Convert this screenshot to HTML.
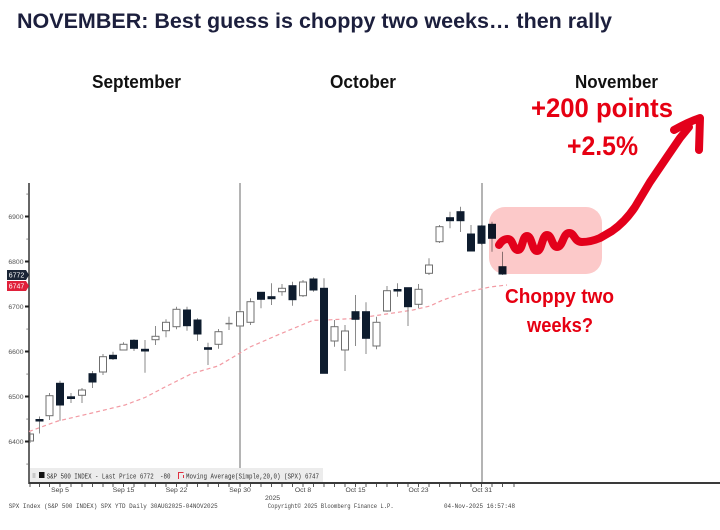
<!DOCTYPE html>
<html><head><meta charset="utf-8"><style>
html,body{margin:0;padding:0;background:#fff;}
svg{display:block;}
</style></head><body>
<svg width="720" height="530" viewBox="0 0 720 530" xmlns="http://www.w3.org/2000/svg">
<rect width="720" height="530" fill="#fff"/>
<!-- title -->
<text x="17" y="28" font-family="Liberation Sans, sans-serif" font-weight="bold" font-size="21" fill="#1c1f3d" textLength="595" lengthAdjust="spacingAndGlyphs">NOVEMBER: Best guess is choppy two weeks… then rally</text>
<!-- month headers -->
<g font-family="Liberation Sans, sans-serif" font-weight="bold" font-size="18" fill="#111">
<text x="92" y="88" textLength="89" lengthAdjust="spacingAndGlyphs">September</text>
<text x="330" y="88" textLength="66" lengthAdjust="spacingAndGlyphs">October</text>
<text x="575" y="88" textLength="83" lengthAdjust="spacingAndGlyphs">November</text>
</g>
<!-- red annotations -->
<g font-family="Liberation Sans, sans-serif" font-weight="bold" fill="#e60012">
<text x="531" y="117" font-size="27" textLength="142" lengthAdjust="spacingAndGlyphs">+200 points</text>
<text x="567" y="155" font-size="27" textLength="71" lengthAdjust="spacingAndGlyphs">+2.5%</text>
<text x="505" y="303" font-size="20" textLength="109" lengthAdjust="spacingAndGlyphs">Choppy two</text>
<text x="527" y="332" font-size="20" textLength="66" lengthAdjust="spacingAndGlyphs">weeks?</text>
</g>

<!-- y axis -->
<line x1="29" y1="183" x2="29" y2="484" stroke="#333" stroke-width="1.5"/>
<g stroke="#222" stroke-width="2">
<line x1="25" y1="216.5" x2="29" y2="216.5"/>
<line x1="25" y1="261.5" x2="29" y2="261.5"/>
<line x1="25" y1="306.5" x2="29" y2="306.5"/>
<line x1="25" y1="351.5" x2="29" y2="351.5"/>
<line x1="25" y1="396.5" x2="29" y2="396.5"/>
<line x1="25" y1="441.5" x2="29" y2="441.5"/>
</g>
<g fill="#777">
<rect x="26.5" y="193.5" width="1.2" height="1.2"/>
<rect x="26.5" y="238.5" width="1.2" height="1.2"/>
<rect x="26.5" y="328.5" width="1.2" height="1.2"/>
<rect x="26.5" y="373.5" width="1.2" height="1.2"/>
<rect x="26.5" y="418.5" width="1.2" height="1.2"/>
<rect x="26.5" y="463.5" width="1.2" height="1.2"/>
</g>
<g font-family="Liberation Sans, sans-serif" font-size="6.8" fill="#555" text-anchor="end">
<text x="23.5" y="219">6900</text>
<text x="23.5" y="264">6800</text>
<text x="23.5" y="309">6700</text>
<text x="23.5" y="354">6600</text>
<text x="23.5" y="399">6500</text>
<text x="23.5" y="444">6400</text>
</g>
<path d="M7,270 L26,270 L29,275 L26,280 L7,280 Z" fill="#1b2536"/>
<path d="M7,281 L26,281 L29,286 L26,291 L7,291 Z" fill="#e0203a"/>
<g font-family="Liberation Sans, sans-serif" font-size="7" fill="#fff" text-anchor="middle">
<text x="16.5" y="277.6">6772</text>
<text x="16.5" y="288.6">6747</text>
</g>

<!-- vertical markers -->
<line x1="240" y1="183" x2="240" y2="483" stroke="#6a6a6a" stroke-width="1"/>
<line x1="482" y1="183" x2="482" y2="483" stroke="#6a6a6a" stroke-width="1"/>

<!-- moving average -->
<path d="M29,431.5 L58,421 L92,413 L125,405 L145,397.5 L165,387 L192,373.5 L218,366 L230,359 L240,353 L250,347 L280,334 L313,320.3 L327,320 L357,318.3 L380,315 L413,310 L430,306 L443,300 L467,292 L490,287 L507,285" fill="none" stroke="#f29aa3" stroke-width="1.2" stroke-dasharray="4 3"/>

<!-- candles -->
<g stroke-width="1">
<g stroke="#8a8a8a">
<line x1="30" y1="432" x2="30" y2="443"/>
<line x1="39.5" y1="416.5" x2="39.5" y2="433.5"/>
<line x1="49.5" y1="393" x2="49.5" y2="420"/>
<line x1="60" y1="380.7" x2="60" y2="420.7"/>
<line x1="71" y1="393" x2="71" y2="403"/>
<line x1="82" y1="388" x2="82" y2="403"/>
<line x1="92.5" y1="371" x2="92.5" y2="388"/>
<line x1="103" y1="354" x2="103" y2="375"/>
<line x1="113" y1="351.7" x2="113" y2="360"/>
<line x1="123.5" y1="342.3" x2="123.5" y2="350"/>
<line x1="134" y1="339.3" x2="134" y2="351"/>
<line x1="145" y1="340" x2="145" y2="372.7"/>
<line x1="155.5" y1="326" x2="155.5" y2="345"/>
<line x1="166" y1="319.3" x2="166" y2="337.3"/>
<line x1="176.5" y1="306.7" x2="176.5" y2="329.3"/>
<line x1="187" y1="306.7" x2="187" y2="330.7"/>
<line x1="197.5" y1="318.3" x2="197.5" y2="341"/>
<line x1="208" y1="342.7" x2="208" y2="365"/>
<line x1="218.5" y1="329" x2="218.5" y2="348.7"/>
<line x1="229" y1="316.7" x2="229" y2="330"/>
<line x1="240" y1="310" x2="240" y2="327"/>
<line x1="250.5" y1="298.3" x2="250.5" y2="325"/>
<line x1="261" y1="292.3" x2="261" y2="308.3"/>
<line x1="271.5" y1="283.3" x2="271.5" y2="305"/>
<line x1="282" y1="284" x2="282" y2="295.7"/>
<line x1="292.5" y1="281.7" x2="292.5" y2="305.7"/>
<line x1="303" y1="280" x2="303" y2="297"/>
<line x1="313.5" y1="277.3" x2="313.5" y2="291.7"/>
<line x1="324" y1="278.3" x2="324" y2="373.3"/>
<line x1="334.5" y1="320" x2="334.5" y2="346.7"/>
<line x1="345" y1="325" x2="345" y2="371"/>
<line x1="355.5" y1="295" x2="355.5" y2="346"/>
<line x1="366" y1="302.3" x2="366" y2="354"/>
<line x1="376.5" y1="316.7" x2="376.5" y2="349.3"/>
<line x1="387" y1="286" x2="387" y2="311.7"/>
<line x1="397.5" y1="283.3" x2="397.5" y2="296.7"/>
<line x1="408" y1="287.7" x2="408" y2="326"/>
<line x1="418.5" y1="284" x2="418.5" y2="308.3"/>
<line x1="429" y1="258.3" x2="429" y2="275"/>
<line x1="439.5" y1="225" x2="439.5" y2="243"/>
<line x1="450" y1="211.7" x2="450" y2="228.3"/>
<line x1="460.5" y1="206.7" x2="460.5" y2="232"/>
<line x1="471" y1="225" x2="471" y2="251"/>
<line x1="481.5" y1="225" x2="481.5" y2="245"/>
<line x1="492" y1="221.7" x2="492" y2="251.7"/>
<line x1="502.5" y1="251.7" x2="502.5" y2="275"/>
</g>
<!-- hollow bodies -->
<g fill="#fff" stroke="#6f6f6f">
<rect x="30" y="434" width="3.5" height="7"/>
<rect x="46" y="395.7" width="7" height="20"/>
<rect x="78.5" y="390" width="7" height="5.3"/>
<rect x="99.5" y="356.7" width="7" height="15.3"/>
<rect x="120" y="344.3" width="7" height="5.7"/>
<rect x="152" y="336.3" width="7" height="3.4"/>
<rect x="162.5" y="322.3" width="7" height="8.4"/>
<rect x="173" y="309.3" width="7" height="17.4"/>
<rect x="215" y="331.7" width="7" height="12.6"/>
<rect x="236.5" y="311.7" width="7" height="14.3"/>
<rect x="247" y="301.7" width="7" height="20.6"/>
<rect x="278.5" y="288.3" width="7" height="3.4"/>
<rect x="299.5" y="282" width="7" height="13.7"/>
<rect x="331" y="326.7" width="7" height="14.3"/>
<rect x="341.5" y="331" width="7" height="19"/>
<rect x="373" y="322.3" width="7" height="23.7"/>
<rect x="383.5" y="290.7" width="7" height="20.3"/>
<rect x="415" y="289.3" width="7" height="15"/>
<rect x="425.5" y="265" width="7" height="8.3"/>
<rect x="436" y="226.7" width="7" height="15"/>
</g>
<line x1="225.5" y1="323.6" x2="232.5" y2="323.6" stroke="#777" stroke-width="1.5"/>
<!-- filled bodies -->
<g fill="#0e1c2e" stroke="#0e1c2e">
<rect x="36" y="419.5" width="7" height="1.5"/>
<rect x="56.5" y="383.3" width="7" height="21.7"/>
<rect x="67.5" y="396.8" width="7" height="1.7"/>
<rect x="89" y="373.7" width="7" height="8.3"/>
<rect x="109.5" y="355.3" width="7" height="3.4"/>
<rect x="130.5" y="340.3" width="7" height="8"/>
<rect x="141.5" y="349.3" width="7" height="1.7"/>
<rect x="183.5" y="310" width="7" height="15.7"/>
<rect x="194" y="320" width="7" height="14"/>
<rect x="204.5" y="347.7" width="7" height="1.6"/>
<rect x="257.5" y="292.3" width="7" height="7"/>
<rect x="268" y="296.7" width="7" height="2"/>
<rect x="289" y="285.7" width="7" height="14"/>
<rect x="310" y="279" width="7" height="11"/>
<rect x="320.5" y="288.3" width="7" height="85"/>
<rect x="352" y="311.7" width="7" height="7.6"/>
<rect x="362.5" y="311.7" width="7" height="26.6"/>
<rect x="394" y="289.5" width="7" height="1.5"/>
<rect x="404.5" y="287.7" width="7" height="19"/>
<rect x="446.5" y="217.7" width="7" height="3"/>
<rect x="457" y="211.7" width="7" height="9"/>
<rect x="467.5" y="234" width="7" height="17"/>
<rect x="478" y="226" width="7" height="17.3"/>
<rect x="488.5" y="224.3" width="7" height="14"/>
<rect x="499" y="266.7" width="7" height="7.3"/>
</g>
</g>

<!-- pink box -->
<rect x="489" y="207" width="113" height="67" rx="16" fill="#fcc9c9" style="mix-blend-mode:multiply"/>

<!-- red wave + arrow -->
<path d="M499,245 C502,240 505,239 508,239 C513,239 513,250 518,250 C523,250 522,236 527,236 C532,236 532,251 537,251 C542,251 542,235 547,235 C552,235 552,247 557,247 C563,247 563,233 569,233 C575,233 574,242 582,242 C588,242 593,241 600,238 L612,231 Q625,222 635,207 L650,182 L667,157 L680,138 L689,127" fill="none" stroke="#e3001b" stroke-width="8" stroke-linecap="round" stroke-linejoin="round"/>
<path d="M674,130 Q688,122 700,118 L699,150" fill="none" stroke="#e3001b" stroke-width="8" stroke-linecap="round" stroke-linejoin="round"/>

<!-- legend band -->
<rect x="30" y="468" width="293" height="14" fill="#ececec"/>
<rect x="32.5" y="473" width="3" height="5" fill="#c8c8c8"/>
<rect x="39" y="472" width="5.5" height="6" fill="#111"/>
<path d="M178.5,479 L178.5,472.5 L183.5,472.5 M183.5,475 L183.5,478" fill="none" stroke="#e03040" stroke-width="1"/>
<g font-family="Liberation Mono, monospace" font-size="7.4" fill="#333">
<text x="46.7" y="478.5" textLength="107" lengthAdjust="spacingAndGlyphs">S&amp;P 500 INDEX - Last Price 6772</text>
<text x="160" y="478.5" textLength="10.5" lengthAdjust="spacingAndGlyphs">-80</text>
<text x="186" y="478.5" textLength="133" lengthAdjust="spacingAndGlyphs">Moving Average(Simple,20,0) (SPX) 6747</text>
</g>

<!-- x axis -->
<line x1="29" y1="483" x2="720" y2="483" stroke="#3a3a3a" stroke-width="2"/>
<g stroke="#555" stroke-width="1">
<path d="M30,484 v3 M39.5,484 v3 M49.5,484 v3 M60,484 v3 M71,484 v3 M82,484 v3 M92.5,484 v3 M103,484 v3 M113,484 v3 M123.5,484 v3 M134,484 v3 M145,484 v3 M155.5,484 v3 M166,484 v3 M176.5,484 v3 M187,484 v3 M197.5,484 v3 M208,484 v3 M218.5,484 v3 M229,484 v3 M240,484 v3 M250.5,484 v3 M261,484 v3 M271.5,484 v3 M282,484 v3 M292.5,484 v3 M303,484 v3 M313.5,484 v3 M324,484 v3 M334.5,484 v3 M345,484 v3 M355.5,484 v3 M366,484 v3 M376.5,484 v3 M387,484 v3 M397.5,484 v3 M408,484 v3 M418.5,484 v3 M429,484 v3 M439.5,484 v3 M450,484 v3 M460.5,484 v3 M471,484 v3 M481.5,484 v3 M492,484 v3 M502.5,484 v3 M514,484 v3"/>
</g>
<g font-family="Liberation Sans, sans-serif" font-size="6.8" fill="#444" text-anchor="middle">
<text x="60" y="492">Sep 5</text>
<text x="123.5" y="492">Sep 15</text>
<text x="176.5" y="492">Sep 22</text>
<text x="240" y="492">Sep 30</text>
<text x="303" y="492">Oct 8</text>
<text x="355.5" y="492">Oct 15</text>
<text x="418.5" y="492">Oct 23</text>
<text x="482" y="492">Oct 31</text>
<text x="272.5" y="500">2025</text>
</g>
<g font-family="Liberation Mono, monospace" font-size="6.6" fill="#444">
<text x="8.7" y="508" textLength="209" lengthAdjust="spacingAndGlyphs">SPX Index (S&amp;P 500 INDEX) SPX YTD Daily 30AUG2025-04NOV2025</text>
<text x="267.7" y="508" textLength="126" lengthAdjust="spacingAndGlyphs">Copyright© 2025 Bloomberg Finance L.P.</text>
<text x="444" y="508" textLength="71" lengthAdjust="spacingAndGlyphs">04-Nov-2025 16:57:48</text>
</g>
</svg>
</body></html>
